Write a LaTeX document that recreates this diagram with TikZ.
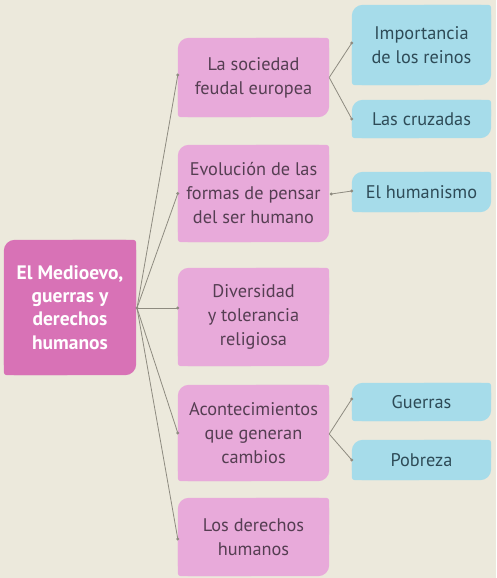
\documentclass[tikz,border=0pt]{standalone}
\usepackage{fontspec}
\setmainfont{PT Sans}
\usetikzlibrary{backgrounds}
\definecolor{bg}{HTML}{ECE9DC}
\definecolor{rootc}{HTML}{D872B6}
\definecolor{pinkc}{HTML}{E8AADA}
\definecolor{bluec}{HTML}{A6DCEA}
\definecolor{ptext}{HTML}{553E52}
\definecolor{btext}{HTML}{2E4B57}
\definecolor{linec}{HTML}{8E8B80}
\newcommand\leafshape[4]{%
  \fill[#2, rounded corners=#3] (#1.north west) rectangle (#1.south east);
  \fill[#2, rounded corners=#4] (#1.north east) rectangle (#1.center);
  \fill[#2, rounded corners=#4] (#1.south west) rectangle (#1.center);
}
\begin{document}
\begin{tikzpicture}[x=1pt,y=-1pt,
  box/.style={inner sep=0pt, align=center, font=\fontsize{18.3}{24}\selectfont},
  pbox/.style={box, text=ptext, minimum width=151pt},
  bbox/.style={box, text=btext, minimum width=139pt},
  rbox/.style={box, text=white, font=\fontsize{19.5}{23.3}\selectfont\bfseries},
  conn/.style={draw=linec, line width=0.8pt},
  enddot/.style={fill=linec}]
\useasboundingbox (0,0) rectangle (496,578);

% root
\node[rbox, minimum width=132pt, minimum height=135pt] (root) at (70,307.5)
  {El Medioevo,\\guerras y\\derechos\\humanos};

% pink level
\node[pbox, minimum height=79pt] (P1) at (253.5,77.5) {La sociedad\\feudal europea};
\node[pbox, minimum height=97pt] (P2) at (253.5,193.5) {Evolución de las\\formas de pensar\\del ser humano};
\node[pbox, minimum height=98pt] (P3) at (253.5,317) {Diversidad\\y tolerancia\\religiosa};
\node[pbox, minimum height=96pt] (P4) at (253.5,433) {Acontecimientos\\que generan\\cambios};
\node[pbox, minimum height=78pt] (P5) at (253.5,537) {Los derechos\\humanos};

% blue level
\node[bbox, minimum height=80pt] (B1) at (421.5,45) {Importancia\\de los reinos};
\node[bbox, minimum height=38pt] (B2) at (421.5,119) {Las cruzadas};
\node[bbox, minimum height=40pt] (B3) at (421.5,192) {El humanismo};
\node[bbox, minimum height=38pt] (B4) at (421.5,402) {Guerras};
\node[bbox, minimum height=40pt] (B5) at (421.5,460) {Pobreza};

\begin{scope}[on background layer]
  \fill[bg] (0,0) rectangle (496,578);
  \leafshape{root}{rootc}{11pt}{3pt}
  \foreach \n in {P1,P2,P3,P4,P5} {\leafshape{\n}{pinkc}{11pt}{3pt}}
  \foreach \n in {B1,B2,B3,B4,B5} {\leafshape{\n}{bluec}{11pt}{3pt}}
\end{scope}

% connectors
\coordinate (hub) at (137,308);
\coordinate (h1) at ([yshift=2.5pt]P1.west);
\coordinate (h3) at (hub -| P3.west);
\coordinate (h5) at ([yshift=-2pt]P5.west);
\foreach \t in {h1,P2.west,h3,P4.west,h5} {
  \draw[conn] (hub) -- (\t);
  \fill[enddot] (\t) circle (1.6pt);
}
\fill[enddot] (hub) circle (1.6pt);

\coordinate (a1) at ([yshift=2pt]B1.west);
\foreach \t in {a1,B2.west} {
  \draw[conn] (P1.east) -- (\t);
  \fill[enddot] (\t) circle (1.6pt);
}
\coordinate (p2e) at ([xshift=2pt,yshift=-0.5pt]P2.east);
\coordinate (b3w) at ([yshift=1pt]B3.west);
\draw[conn] (p2e) -- (b3w);
\fill[enddot] (p2e) circle (1.6pt);
\fill[enddot] (b3w) circle (1.6pt);

\coordinate (p4e) at ([yshift=-1pt]P4.east);
\coordinate (a4) at ([yshift=3pt]B4.west);
\foreach \t in {a4,B5.west} {
  \draw[conn] (p4e) -- (\t);
  \fill[enddot] (\t) circle (1.6pt);
}
\end{tikzpicture}
\end{document}
